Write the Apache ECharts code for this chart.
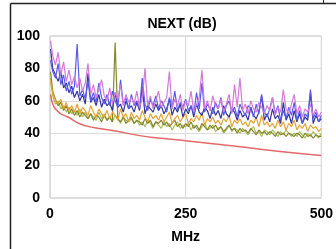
<!DOCTYPE html>
<html>
<head>
<meta charset="utf-8">
<script src="https://cdn.jsdelivr.net/npm/echarts@6/dist/echarts.min.js"></script>
<style>
  html, body { margin: 0; padding: 0; background: #fff; }
  #chart { width: 336px; height: 249px; }
</style>
</head>
<body>
<div id="chart"></div>
<script>
// sweep frequencies (MHz) shared by all measured pairs
const freq = [
  1, 5, 10, 15, 20, 25, 30, 35, 40, 45,
  50, 55, 60, 65, 70, 75, 80, 85, 90, 95,
  100, 105, 110, 115, 120, 125, 130, 135, 140, 145,
  150, 155, 160, 165, 170, 175, 180, 185, 190, 195,
  200, 205, 210, 215, 220, 225, 230, 235, 240, 245,
  250, 255, 260, 265, 270, 275, 280, 285, 290, 295,
  300, 305, 310, 315, 320, 325, 330, 335, 340, 345,
  350, 355, 360, 365, 370, 375, 380, 385, 390, 395,
  400, 405, 410, 415, 420, 425, 430, 435, 440, 445,
  450, 455, 460, 465, 470, 475, 480, 485, 490, 495,
  500,
]

const green = [
  74, 63, 58, 60, 55, 57, 53, 56, 52, 54,
  51, 55, 50, 53, 49, 52, 50, 48, 53, 49,
  52, 48, 50, 47, 51, 49, 46, 50, 48, 47,
  49, 46, 48, 45, 47, 44, 48, 46, 43, 47,
  45, 43, 47, 44, 46, 42, 45, 47, 43, 45,
  44, 46, 42, 45, 43, 41, 44, 46, 42, 43,
  45, 41, 43, 44, 40, 42, 45, 41, 43, 42,
  40, 43, 41, 39, 42, 44, 40, 41, 38, 42,
  41, 39, 42, 40, 38, 41, 39, 42, 40, 38,
  40, 38, 41, 39, 37, 40, 38, 41, 39, 37,
  40,
]

const olive = [
  78, 66, 61, 57, 59, 54, 57, 52, 55, 51,
  54, 50, 53, 51, 49, 52, 48, 51, 50, 47,
  51, 48, 50, 47, 96, 49, 47, 50, 46, 48,
  50, 46, 48, 47, 45, 49, 46, 48, 44, 47,
  46, 48, 45, 47, 44, 46, 48, 44, 46, 43,
  46, 44, 47, 43, 45, 42, 46, 44, 42, 45,
  43, 45, 42, 44, 41, 43, 45, 42, 43, 40,
  43, 41, 42, 40, 43, 41, 39, 42, 40, 41,
  39, 41, 40, 38, 41, 39, 40, 38, 40, 39,
  38, 40, 39, 37, 40, 38, 39, 37, 39, 38,
  38,
]

const orange = [
  72, 65, 60, 58, 61, 55, 59, 54, 57, 53,
  58, 52, 56, 54, 51, 57, 53, 50, 55, 52,
  50, 54, 49, 53, 51, 48, 55, 50, 52, 47,
  53, 49, 51, 48, 54, 50, 47, 52, 49, 51,
  48, 52, 47, 50, 53, 46, 49, 51, 47, 50,
  52, 46, 49, 47, 51, 48, 53, 45, 49, 47,
  50, 46, 48, 45, 49, 47, 51, 44, 48, 46,
  49, 45, 47, 44, 48, 46, 50, 44, 51, 45,
  47, 44, 46, 43, 48, 44, 47, 42, 46, 44,
  48, 42, 45, 43, 46, 41, 45, 43, 44, 41,
  43,
]

const navy = [
  92, 80, 76, 72, 78, 68, 71, 65, 69, 62,
  66, 60, 64, 58, 77, 59, 62, 57, 64, 56,
  61, 57, 59, 54, 65, 56, 58, 53, 60, 55,
  57, 53, 59, 54, 69, 52, 57, 55, 53, 58,
  54, 57, 52, 55, 61, 51, 56, 53, 58, 50,
  55, 52, 57, 50, 58, 53, 51, 56, 54, 49,
  56, 51, 54, 49, 57, 52, 50, 55, 53, 48,
  54, 50, 52, 48, 56, 51, 49, 53, 63, 48,
  52, 47, 55, 49, 51, 46, 59, 48, 52, 46,
  54, 47, 52, 46, 50, 48, 65, 46, 51, 47,
  49,
]

const pink = [
  97, 88, 82, 90, 76, 84, 72, 79, 70, 75,
  68, 74, 66, 71, 83, 64, 70, 62, 67, 73,
  63, 60, 68, 58, 65, 61, 70, 57, 64, 59,
  62, 58, 66, 56, 61, 80, 57, 63, 55, 60,
  66, 56, 59, 62, 78, 55, 61, 57, 64, 54,
  60, 57, 66, 53, 58, 62, 79, 55, 60, 54,
  63, 57, 55, 61, 53, 58, 64, 52, 70, 56,
  74, 54, 58, 52, 60, 55, 53, 59, 56, 52,
  57, 54, 62, 51, 56, 53, 67, 55, 52, 58,
  64, 52, 57, 50, 55, 53, 58, 51, 55, 50,
  53,
]

const blue = [
  85, 78, 74, 83, 70, 76, 66, 72, 64, 69,
  95, 63, 67, 61, 72, 60, 65, 59, 71, 62,
  58, 64, 57, 66, 60, 56, 73, 58, 62, 55,
  64, 57, 60, 55, 74, 58, 54, 61, 57, 63,
  55, 60, 57, 53, 62, 56, 66, 54, 59, 56,
  61, 54, 57, 52, 65, 55, 71, 53, 58, 55,
  52, 59, 55, 62, 51, 57, 60, 53, 56, 50,
  58, 54, 51, 57, 55, 50, 58, 52, 64, 53,
  50, 55, 62, 52, 57, 48, 54, 49, 56, 51,
  59, 48, 54, 46, 52, 50, 67, 49, 53, 47,
  51,
]

// limit curve
const limitFreq = [1, 5, 10, 20, 33, 56, 80, 118, 165, 200, 250, 300, 350, 424, 500]
const limitVals = [64, 58, 55, 52, 50, 45.7, 43.5, 41.5, 38.5, 37, 35.3, 33.5, 31.7, 28.7, 26.3]

const xTicks = [0, 250, 500]
const yTicks = [0, 20, 40, 60, 80, 100]

const pairs = (xs, ys) => xs.map((x, i) => [x, ys[i]])

const measured = [
  { data: green, color: '#a6bf58' },
  { data: olive, color: '#86862c' },
  { data: orange, color: '#e8a232' },
  { data: navy, color: '#34349c' },
  { data: blue, color: '#5a5aee' },
  { data: pink, color: '#d47ad8' },
]

const labelFont = { color: '#000', fontSize: 14, fontWeight: 'bold', fontFamily: 'Liberation Sans' }

const chart = echarts.init(document.getElementById('chart'), null, { renderer: 'canvas' })

chart.setOption({
  animation: false,
  backgroundColor: '#fff',
  title: {
    text: 'NEXT (dB)',
    left: 177,
    top: 12,
    textAlign: 'center',
    textStyle: labelFont,
  },
  grid: {
    left: 50, right: 11, top: 36, bottom: 49,
    show: true,
    borderColor: '#bdbdbd',
    borderWidth: 1,
    backgroundColor: '#fff',
  },
  xAxis: {
    type: 'value',
    min: xTicks[0],
    max: xTicks[xTicks.length - 1],
    interval: 250,
    name: 'MHz',
    nameLocation: 'middle',
    nameGap: 32,
    nameTextStyle: labelFont,
    axisLine: { show: false },
    axisTick: { show: false },
    axisLabel: { ...labelFont, margin: 9 },
    splitLine: { lineStyle: { color: '#dcdcdc' } },
  },
  yAxis: {
    type: 'value',
    min: yTicks[0],
    max: yTicks[yTicks.length - 1],
    interval: 20,
    axisLine: { show: false },
    axisTick: { show: false },
    axisLabel: { ...labelFont, margin: 10 },
    splitLine: { lineStyle: { color: '#dcdcdc' } },
  },
  graphic: [
    { type: 'line', shape: { x1: 10.5, y1: 3.5, x2: 336, y2: 3.5 }, style: { stroke: '#222', lineWidth: 1.5 } },
    { type: 'line', shape: { x1: 10.5, y1: 3.5, x2: 10.5, y2: 249 }, style: { stroke: '#222', lineWidth: 1.5 } },
    { type: 'line', shape: { x1: 323.5, y1: 0, x2: 323.5, y2: 3.5 }, style: { stroke: '#222', lineWidth: 1 } },
  ],
  series: [
    ...measured.map(s => ({
      type: 'line',
      data: pairs(freq, s.data),
      showSymbol: false,
      lineStyle: { color: s.color, width: 1.2 },
      silent: true,
    })),
    {
      type: 'line',
      data: pairs(limitFreq, limitVals),
      smooth: true,
      showSymbol: false,
      lineStyle: { color: '#e46a6a', width: 1.5 },
      silent: true,
    },
  ],
})
</script>
</body>
</html>
